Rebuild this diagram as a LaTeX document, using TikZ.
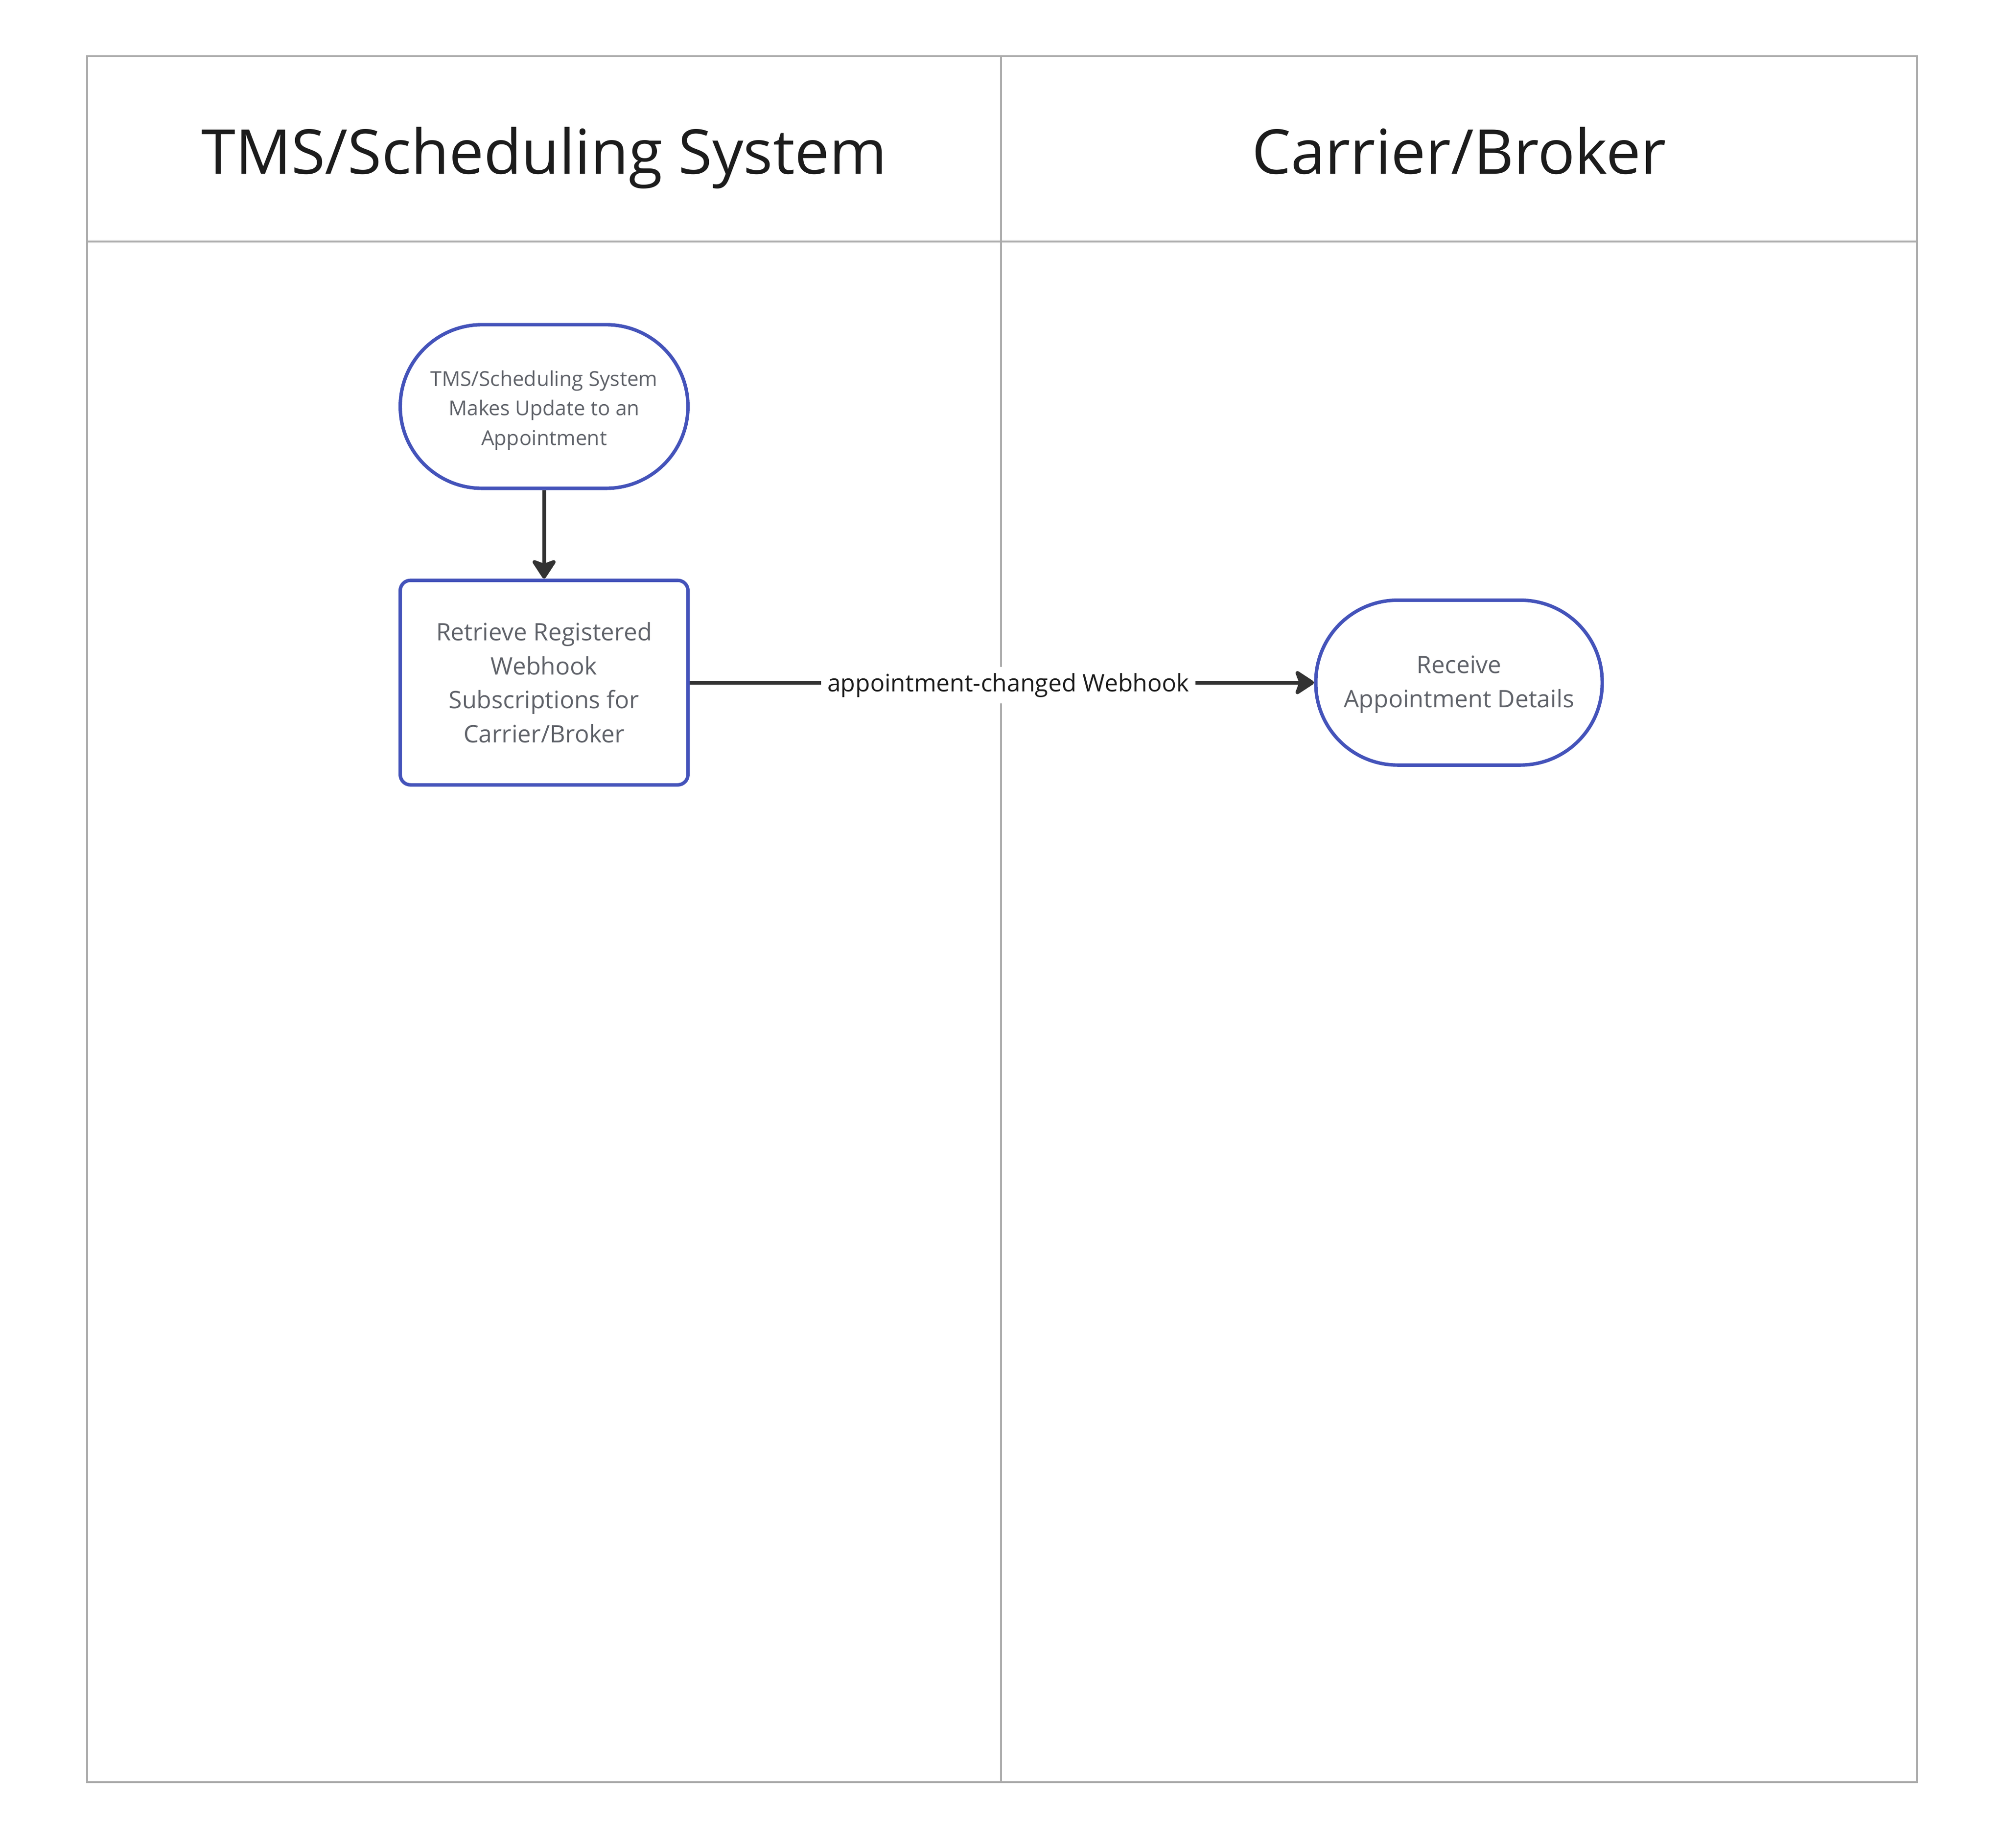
\documentclass[tikz,border=0pt]{standalone}
\usepackage{fontspec}
\setmainfont{Open Sans}
\usetikzlibrary{arrows.meta}
\definecolor{nodeblue}{HTML}{4453BA}
\definecolor{nodetext}{HTML}{5F6269}
\definecolor{framec}{HTML}{ABABAB}
\definecolor{arrowc}{HTML}{333333}
\definecolor{titletext}{HTML}{1C1C1C}
\begin{document}
\begin{tikzpicture}[x=1pt,y=-1pt,
  lanetitle/.style={font=\fontsize{48.3}{58}\selectfont, text=titletext, inner sep=0pt, anchor=base},
  procnode/.style={draw=nodeblue, line width=2.7pt, fill=white, text=nodetext, align=center, inner sep=0pt},
  proctext/.style={text=nodetext, align=center, inner sep=0pt},
  flow/.style={draw=arrowc, line width=3pt, -{Stealth[length=17pt,width=22pt,inset=4pt,round]}},
  framel/.style={draw=framec, line width=1.5pt}]
\useasboundingbox (0,0) rectangle (1568,1445.3);
% frame
\draw[framel] (68,44) rectangle (1499,1394);
\draw[framel] (68,189) -- (1499,189);
\draw[framel] (783,44) -- (783,1394);
% lane titles
\node[lanetitle] (t1) at (425.5,136) {TMS/Scheduling System};
\node[lanetitle] (t2) at (1141,136) {Carrier/Broker};
% nodes
\node[procnode, minimum width=225, minimum height=128, rounded corners=64] (n1) at (425.5,318) {};
\node[proctext, font=\fontsize{16}{23}\selectfont] (n1t) at (425.5,321)
  {TMS/Scheduling System\\Makes Update to an\\Appointment};
\node[procnode, minimum width=225, minimum height=160, rounded corners=8,
  font=\fontsize{18.8}{26.7}\selectfont] (n2) at (425.5,534)
  {Retrieve Registered\\Webhook\\Subscriptions for\\Carrier/Broker};
\node[procnode, minimum width=224, minimum height=129, rounded corners=64] (n3) at (1141,534) {};
\node[proctext, font=\fontsize{18.8}{26.7}\selectfont] (n3t) at (1141,535.5)
  {Receive\\Appointment Details};
% connectors
\draw[flow] (n1) -- (n2);
\draw[flow] (n2) -- node[fill=white, text=titletext, inner sep=5pt, xshift=5pt, yshift=-2pt,
  font=\fontsize{18.8}{23}\selectfont] (lbl) {appointment-changed Webhook} (n3);
\end{tikzpicture}
\end{document}
